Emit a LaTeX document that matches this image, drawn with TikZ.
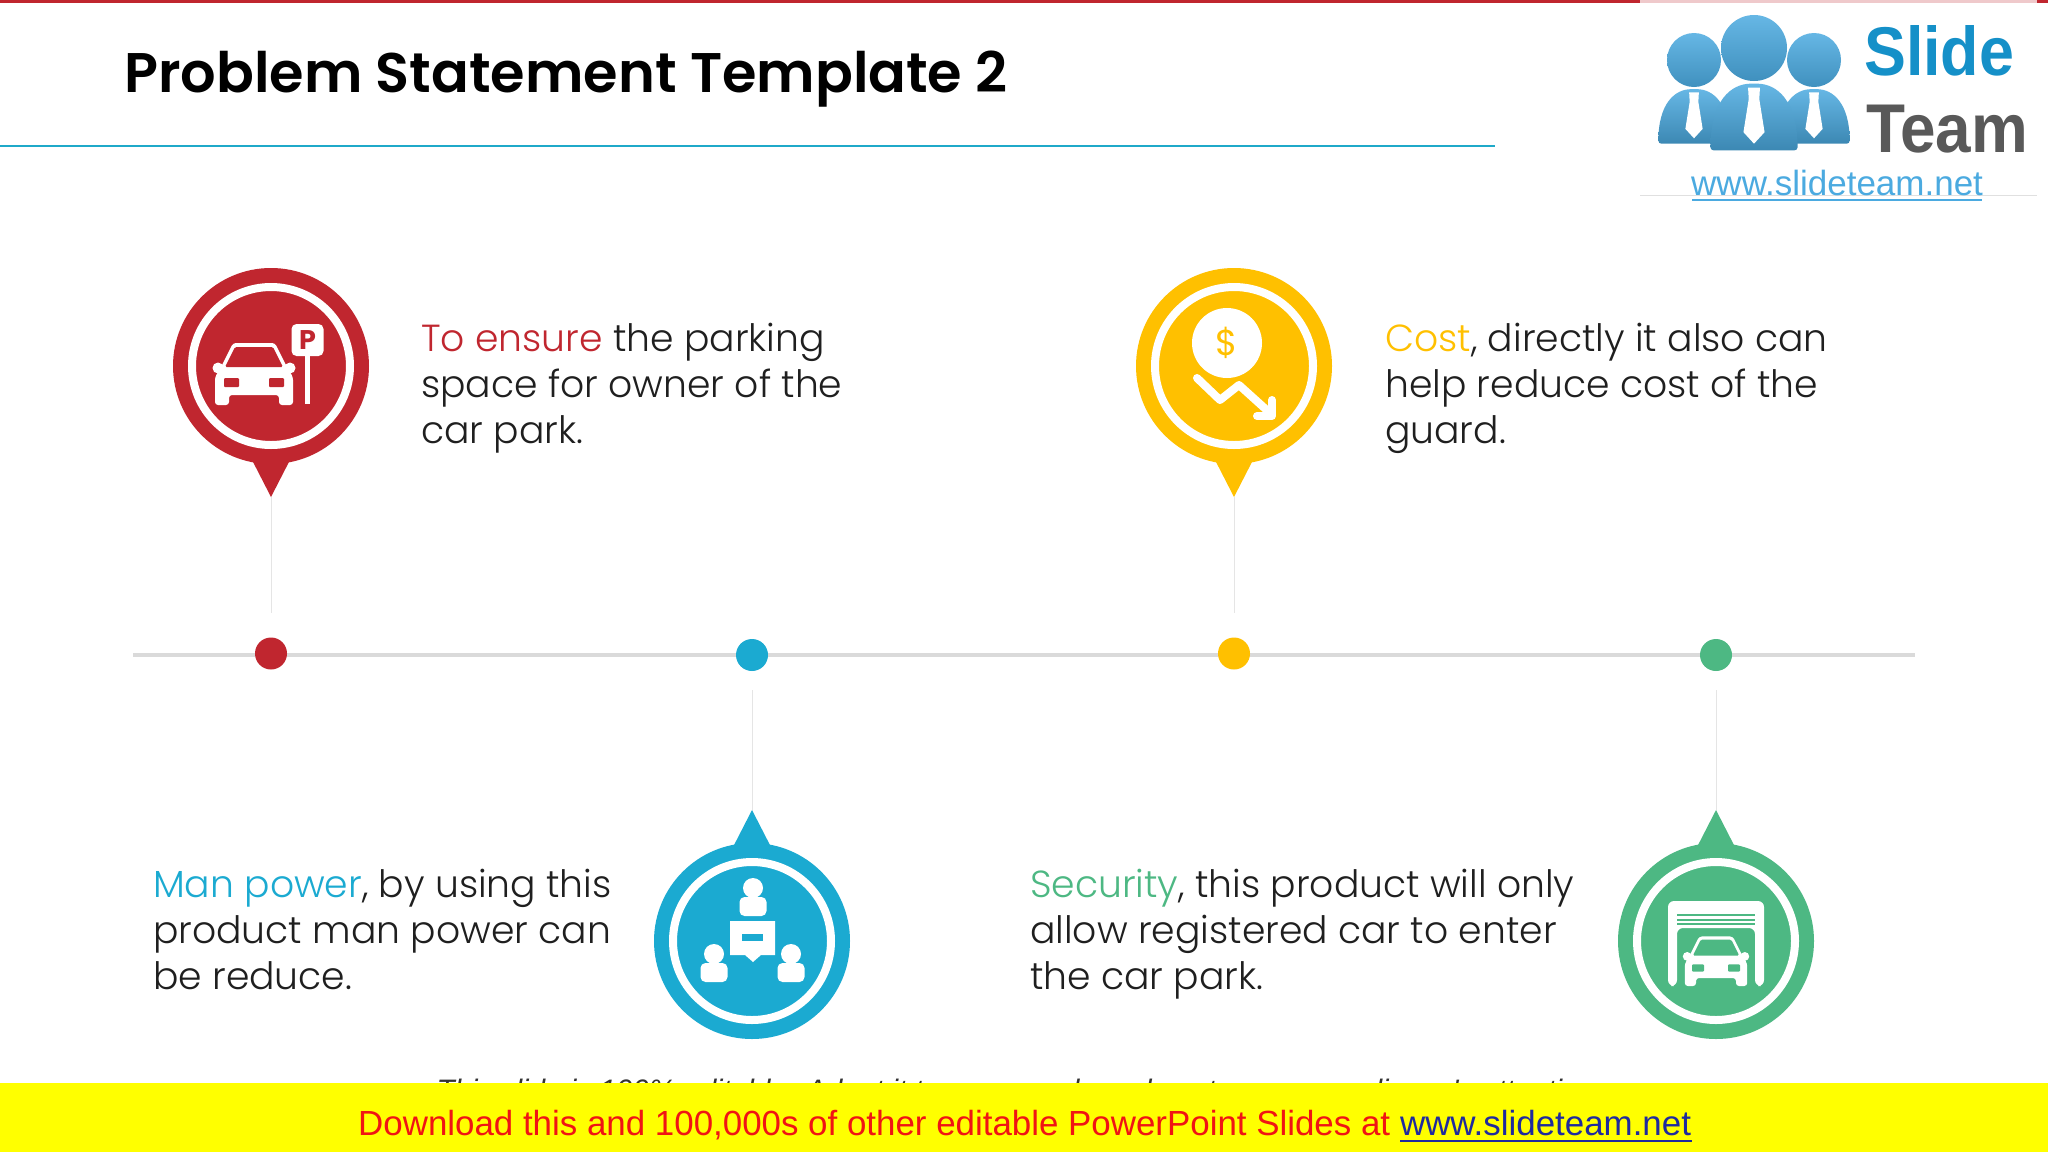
\documentclass[tikz,border=0pt]{standalone}
\usepackage{fontspec}
\setmainfont{Poppins}
\newfontfamily\titlefont{Poppins SemiBold}
\newfontfamily\bodyfont{Poppins Light}
\newfontfamily\bandfont{Liberation Sans}
\usepackage{tikz}

\definecolor{pinred}{HTML}{C0262F}
\definecolor{pinblue}{HTML}{1BAAD1}
\definecolor{pinyellow}{HTML}{FFC000}
\definecolor{pingreen}{HTML}{4DB883}
\definecolor{logoblue}{HTML}{4BAAE0}
\definecolor{logotext}{HTML}{1590C8}
\definecolor{rulegray}{HTML}{DADADA}
\definecolor{titleline}{HTML}{1FA9C9}
\definecolor{bandyellow}{HTML}{FFFF00}
\definecolor{bandred}{HTML}{F01414}
\definecolor{bandlink}{HTML}{1F2A9E}

\tikzset{
  x=1pt, y=-1pt,
  dotnode/.style={circle, inner sep=0pt, minimum size=32pt, fill=#1},
  headnode/.style={circle, inner sep=0pt, minimum size=196pt, fill=#1},
  ringnode/.style={circle, inner sep=0pt, minimum size=158pt, draw=white, line width=8pt},
  stemline/.style={draw=rulegray!70, line width=1pt},
  blurb/.style={anchor=north west, align=left, font=\bodyfont\fontsize{37.7}{46}\selectfont, text=black!88, inner sep=0pt},
  pics/carshape/.style={code={
    \fill[white, rounded corners=3pt] (-21,-62) -- (21,-62) -- (33,-38) -- (39,-28) -- (39,0) -- (25,0)
      -- (25,-10) -- (-25,-10) -- (-25,0) -- (-39,0) -- (-39,-28) -- (-33,-38) -- cycle;
    \fill[white] (-36,-37) circle (5.5) (36,-37) circle (5.5);
    \fill[#1, rounded corners=1.5pt] (-19,-58) -- (19,-58) -- (29,-38) -- (-29,-38) -- cycle;
    \fill[#1, rounded corners=1pt] (-30,-27) rectangle (-15,-18) (15,-27) rectangle (30,-18);
  }},
  pics/person/.style={code={
    \fill[white] (0,0) circle (10);
    \fill[white, rounded corners=5pt] (-13.5,28) -- (-13.5,9) -- (13.5,9) -- (13.5,28) -- cycle;
  }},
  pics/logoman/.style={code={
    \shade[top color=logoblue!85!white, bottom color=logoblue!85!black] (0,0) circle (#1);
    \shade[top color=logoblue!85!white, bottom color=logoblue!80!black, rounded corners=3pt]
      (-1.32*#1,3.1*#1) .. controls (-1.32*#1,1.6*#1) and (-.7*#1,1.08*#1) .. (0,1.08*#1)
      .. controls (.7*#1,1.08*#1) and (1.32*#1,1.6*#1) .. (1.32*#1,3.1*#1) -- cycle;
    \fill[white] (-.18*#1,1.2*#1) -- (.18*#1,1.2*#1) -- (.16*#1,1.55*#1) -- (.32*#1,2.55*#1)
      -- (0,2.9*#1) -- (-.32*#1,2.55*#1) -- (-.16*#1,1.55*#1) -- cycle;
  }},
}

\begin{document}
\begin{tikzpicture}
  \useasboundingbox (0,0) rectangle (2048,1152);
  \fill[white] (0,0) rectangle (2048,1152);

  % top rules and title
  \fill[pinred] (0,0) rectangle (1640,3);
  \fill[pinred!25] (1640,0) rectangle (2037,3);
  \fill[pinred] (2037,0) rectangle (2048,3);
  \draw[titleline, line width=2.5pt] (0,146) -- (1495,146);
  \node[anchor=base west, inner sep=0pt, font=\titlefont\fontsize{55.8}{60}\selectfont] (title) at (124,92) {Problem Statement Template 2};

  % logo
  \draw[black!12, line width=1pt] (1640,195) -- (2037,195);
  \pic at (1694,60) {logoman=27};
  \pic at (1814,60) {logoman=27};
  \pic at (1754,48) {logoman=33};
  \node[anchor=base west, inner sep=0pt, text=logotext, font=\bandfont\bfseries\fontsize{69}{69}\selectfont, xscale=.91, transform shape] (logoslide) at (1864,75) {Slide};
  \node[anchor=base west, inner sep=0pt, text=black!65, font=\bandfont\bfseries\fontsize{69}{69}\selectfont, xscale=.925, transform shape] (logoteam) at (1866,152) {Team};
  \node[anchor=base west, inner sep=0pt, text=logoblue, font=\bandfont\fontsize{35}{35}\selectfont] (logourl) at (1691,195) {www.slideteam.net};
  \draw[logoblue, line width=2pt] (1692,200) -- (1982,200);

  % timeline
  \draw[rulegray, line width=4.5pt] (133,655) -- (1915,655);
  \foreach \nam/\col/\px/\py/\dy/\dir/\gap in {A/pinred/271/366/653.5/1/24, B/pinblue/752/941/655/-1/19, C/pinyellow/1234/366/653.5/1/24, D/pingreen/1716/941/655/-1/19} {
    \node[dotnode=\col] (dot\nam) at (\px,\dy) {};
    \node[headnode=\col] (head\nam) at (\px,\py) {};
    \node[ringnode] (ring\nam) at (\px,\py) {};
    \coordinate (tip\nam) at (\px,{\py+131*\dir});
    \fill[\col] (\px-20,{\py+92*\dir}) -- (\px+20,{\py+92*\dir}) -- (tip\nam) -- cycle;
    \draw[stemline, shorten >=\gap pt] (tip\nam) -- (dot\nam);
  }

  % parking icon
  \pic at (254,405) {carshape=pinred};
  \node[fill=white, rounded corners=5pt, minimum size=32pt, inner sep=0pt, text=pinred, font=\bfseries\fontsize{27}{27}\selectfont] (signP) at (307.5,340) {P};
  \fill[white] (305.2,350) rectangle (309.8,404);

  % meeting icon
  \pic at (753,888) {person};
  \pic at (714,954) {person};
  \pic at (791,954) {person};
  \fill[white] (730,921) -- (775,921) -- (775,955) -- (761,955) -- (753,962) -- (745,955) -- (730,955) -- cycle;
  \fill[pinblue] (742,934) rectangle (763,941);

  % cost icon
  \node[circle, fill=white, inner sep=0pt, minimum size=70pt, text=pinyellow, font=\fontsize{36}{36}\selectfont] (coin) at (1227,343) {\$};
  \draw[white, line width=8pt, line cap=round, line join=round] (1197,378) -- (1220,400) -- (1239,385) -- (1270,413);
  \draw[white, line width=8pt, line cap=round, line join=round] (1272,400) -- (1272,416) -- (1257,416);

  % garage icon
  \fill[white, rounded corners=6pt] (1668,986) -- (1668,901) -- (1764,901) -- (1764,986) -- (1755,986) -- (1755,928) -- (1677,928) -- (1677,986) -- cycle;
  \foreach \sy in {915,920,924} \draw[pingreen, line width=1.2pt] (1677,\sy) -- (1755,\sy);
  \pic[scale=.8] at (1716,986) {carshape=pingreen};

  % texts
  \node[blurb] (textA) at (421,323) {\textcolor{pinred}{To ensure} the parking\\space for owner of the\\car park.};
  \node[blurb] (textC) at (1385,323) {\textcolor{pinyellow}{Cost}, directly it also can\\help reduce cost of the\\guard.};
  \node[blurb] (textB) at (153,869) {\textcolor{pinblue}{Man power}, by using this\\product man power can\\be reduce.};
  \node[blurb] (textD) at (1030,869) {\textcolor{pingreen}{Security}, this product will only\\allow registered car to enter\\the car park.};

  % band
  \node[anchor=base, inner sep=0pt, text=black!80, font=\bandfont\itshape\fontsize{29.6}{30}\selectfont] (note) at (1020,1100) {This slide is 100\% editable. Adapt it to your needs and capture your audience's attention.};
  \fill[bandyellow] (0,1083) rectangle (2048,1152);
  \node[anchor=base west, inner sep=0pt, font=\bandfont\fontsize{34.9}{35}\selectfont, text=bandred] (band) at (358,1135) {Download this and 100,000s of other editable PowerPoint Slides at \textcolor{bandlink}{www.slideteam.net}};
  \draw[bandlink, line width=2pt] (1400,1141) -- (1692,1141);
\end{tikzpicture}
\end{document}
